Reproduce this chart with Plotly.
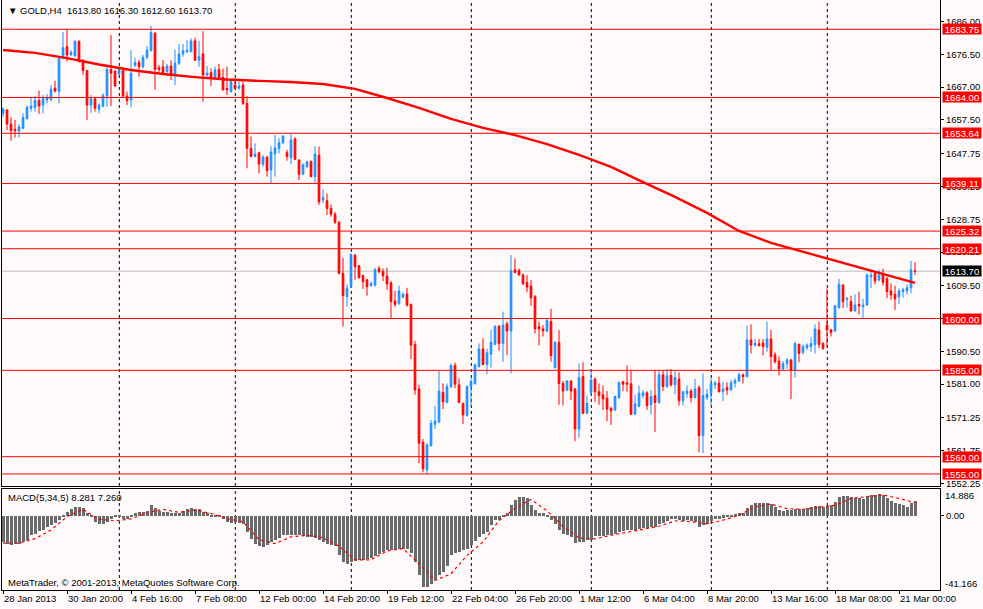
import plotly.graph_objects as go

# --------------------- chart values (GOLD H4) ---------------------

bar_open = [
    1659.4, 1660.4, 1656.3, 1654.8, 1654.3, 1655.1, 1657.9, 1660.9, 1661.1, 1663.1,
    1661.8, 1663.3, 1663.5, 1666.7, 1665.7, 1675.6, 1678.7, 1676.4, 1676.0, 1680.2,
    1674.8, 1671.8, 1661.8, 1663.6, 1660.6, 1661.5, 1664.4, 1672.1, 1671.6, 1670.8,
    1671.8, 1664.4, 1663.3, 1673.3, 1674.1, 1672.9, 1675.6, 1677.6, 1682.6, 1672.6,
    1672.9, 1671.5, 1673.1, 1670.5, 1673.9, 1676.6, 1677.3, 1677.3, 1680.4, 1674.8,
    1676.6, 1670.5, 1671.2, 1669.8, 1672.1, 1669.8, 1666.6, 1665.7, 1667.6, 1666.7,
    1667.6, 1662.3, 1649.3, 1646.9, 1648.0, 1644.7, 1646.7, 1643.0, 1647.6, 1649.2,
    1650.9, 1648.0, 1646.6, 1652.0, 1645.9, 1641.8, 1644.0, 1645.5, 1641.1, 1647.3,
    1634.3, 1634.1, 1631.9, 1630.2, 1627.9, 1613.1, 1606.3, 1609.2, 1618.4, 1615.3,
    1612.4, 1611.2, 1609.5, 1609.7, 1614.5, 1613.6, 1612.3, 1610.3, 1605.1, 1604.4,
    1606.1, 1607.1, 1604.1, 1592.5, 1579.6, 1564.2, 1556.2, 1563.2, 1569.4, 1570.1,
    1578.6, 1575.7, 1580.3, 1586.4, 1580.8, 1575.4, 1571.9, 1580.3, 1581.2, 1586.1,
    1591.2, 1586.7, 1589.7, 1592.5, 1597.8, 1592.8, 1598.5, 1596.4, 1614.1, 1613.9,
    1612.6, 1610.4, 1609.4, 1606.3, 1597.6, 1597.0, 1596.4, 1599.1, 1585.8, 1593.1,
    1581.2, 1579.3, 1581.9, 1579.6, 1568.0, 1583.2, 1572.6, 1578.6, 1582.5, 1578.8,
    1577.9, 1576.9, 1574.0, 1573.5, 1577.1, 1581.7, 1581.4, 1581.1, 1572.3, 1574.6,
    1577.7, 1578.5, 1575.0, 1577.7, 1575.7, 1583.7, 1580.3, 1583.5, 1580.8, 1582.5,
    1576.2, 1578.3, 1579.0, 1577.1, 1580.0, 1566.1, 1577.1, 1578.3, 1580.8, 1581.3,
    1578.8, 1580.0, 1579.3, 1581.3, 1581.9, 1583.7, 1583.2, 1593.8, 1592.3, 1592.7,
    1592.9, 1591.7, 1594.1, 1589.5, 1587.7, 1585.4, 1587.0, 1588.0, 1585.1, 1592.5,
    1590.2, 1591.6, 1591.9, 1592.5, 1596.7, 1592.8, 1598.1, 1596.7, 1596.4, 1603.2,
    1609.7, 1605.6, 1604.9, 1602.2, 1604.1, 1603.4, 1603.9, 1612.1, 1613.1, 1611.2,
    1612.8, 1611.5, 1608.0, 1607.0, 1606.3, 1607.8, 1608.0, 1608.9, 1613.8,
]

bar_high = [
    1661.1, 1660.6, 1658.3, 1657.5, 1656.3, 1659.4, 1661.7, 1664.2, 1664.4, 1666.0,
    1664.7, 1665.0, 1667.6, 1668.8, 1676.0, 1683.0, 1683.7, 1677.7, 1680.6, 1680.6,
    1675.0, 1671.9, 1664.7, 1664.2, 1662.3, 1665.2, 1672.9, 1682.1, 1671.9, 1672.4,
    1671.9, 1665.7, 1677.7, 1675.5, 1674.9, 1676.3, 1678.9, 1684.7, 1683.0, 1673.4,
    1674.8, 1673.7, 1674.7, 1677.9, 1679.5, 1679.5, 1680.6, 1681.1, 1681.3, 1680.4,
    1683.2, 1673.1, 1672.4, 1672.9, 1673.7, 1672.4, 1672.9, 1668.9, 1669.5, 1668.6,
    1668.6, 1664.4, 1652.7, 1650.7, 1648.3, 1647.3, 1647.1, 1649.9, 1653.1, 1652.2,
    1653.1, 1648.8, 1653.4, 1652.5, 1646.1, 1644.9, 1645.7, 1645.7, 1649.9, 1649.8,
    1637.4, 1636.2, 1633.0, 1630.8, 1628.2, 1617.6, 1609.9, 1618.8, 1618.6, 1615.5,
    1612.8, 1611.5, 1610.7, 1614.7, 1615.2, 1614.5, 1614.7, 1610.9, 1608.0, 1609.5,
    1607.6, 1608.9, 1604.3, 1593.5, 1580.8, 1565.1, 1563.9, 1570.6, 1574.7, 1584.8,
    1581.2, 1581.2, 1587.0, 1587.3, 1582.7, 1575.7, 1580.6, 1582.7, 1587.0, 1592.8,
    1594.3, 1591.2, 1596.7, 1598.1, 1598.1, 1602.0, 1599.1, 1618.4, 1617.4, 1614.5,
    1613.1, 1612.6, 1611.2, 1606.8, 1599.1, 1598.1, 1599.9, 1602.8, 1593.5, 1596.7,
    1581.9, 1582.2, 1582.2, 1579.8, 1587.0, 1587.3, 1577.7, 1585.4, 1582.9, 1581.2,
    1580.6, 1579.0, 1574.5, 1577.7, 1581.9, 1581.9, 1586.4, 1585.1, 1577.9, 1580.6,
    1579.3, 1579.0, 1579.3, 1585.1, 1584.8, 1585.1, 1585.4, 1585.4, 1585.1, 1584.4,
    1579.0, 1580.6, 1579.6, 1582.5, 1580.6, 1584.1, 1579.6, 1582.7, 1581.9, 1583.2,
    1581.7, 1581.5, 1582.2, 1582.7, 1584.4, 1584.1, 1597.9, 1598.3, 1594.1, 1594.1,
    1594.1, 1599.1, 1596.7, 1590.2, 1589.0, 1587.7, 1588.5, 1588.3, 1593.3, 1592.8,
    1592.5, 1592.8, 1594.5, 1598.3, 1599.1, 1593.1, 1608.7, 1597.0, 1603.9, 1611.5,
    1609.9, 1606.0, 1606.6, 1607.0, 1607.8, 1605.7, 1613.1, 1614.1, 1613.6, 1614.1,
    1614.4, 1612.1, 1610.2, 1609.5, 1608.7, 1608.9, 1609.9, 1616.7, 1616.3,
]

bar_low = [
    1658.4, 1654.6, 1651.5, 1652.4, 1652.4, 1654.8, 1657.5, 1659.9, 1659.9, 1659.2,
    1659.4, 1662.3, 1662.8, 1665.4, 1662.3, 1675.0, 1674.4, 1676.0, 1675.8, 1674.1,
    1670.5, 1657.5, 1659.6, 1659.9, 1659.4, 1661.1, 1661.3, 1661.5, 1667.1, 1670.5,
    1664.0, 1661.8, 1661.1, 1672.9, 1670.0, 1672.4, 1675.0, 1677.3, 1666.2, 1671.0,
    1670.5, 1671.0, 1669.1, 1667.6, 1673.4, 1675.8, 1676.8, 1677.0, 1674.7, 1672.9,
    1662.8, 1670.0, 1667.3, 1669.5, 1669.5, 1666.0, 1664.7, 1665.4, 1666.4, 1666.2,
    1661.8, 1643.5, 1646.7, 1646.7, 1642.0, 1643.9, 1641.1, 1638.9, 1641.1, 1647.8,
    1650.5, 1645.7, 1644.7, 1645.9, 1640.1, 1641.6, 1643.5, 1640.9, 1638.9, 1632.9,
    1633.4, 1630.0, 1629.5, 1627.4, 1612.8, 1597.7, 1603.4, 1608.9, 1611.2, 1611.6,
    1608.6, 1606.6, 1609.2, 1609.2, 1613.1, 1610.9, 1608.3, 1600.1, 1603.4, 1603.9,
    1605.9, 1603.4, 1588.3, 1577.9, 1558.1, 1555.5, 1554.9, 1562.9, 1568.0, 1569.7,
    1573.8, 1575.5, 1579.8, 1579.8, 1575.5, 1569.5, 1571.6, 1574.7, 1580.8, 1585.8,
    1586.4, 1583.9, 1585.8, 1592.3, 1590.7, 1587.5, 1589.4, 1584.1, 1613.1, 1612.4,
    1609.7, 1607.6, 1603.7, 1595.7, 1592.2, 1594.8, 1596.0, 1587.5, 1585.5, 1575.0,
    1574.8, 1579.0, 1576.4, 1564.5, 1565.5, 1572.3, 1572.3, 1577.9, 1575.9, 1575.0,
    1573.5, 1570.3, 1569.2, 1573.2, 1576.7, 1579.0, 1578.8, 1572.1, 1572.1, 1574.3,
    1576.9, 1573.5, 1572.3, 1567.1, 1575.4, 1579.0, 1580.0, 1580.3, 1578.1, 1574.8,
    1574.8, 1577.1, 1575.7, 1576.9, 1561.3, 1561.0, 1576.4, 1574.8, 1579.6, 1578.6,
    1576.1, 1577.9, 1579.0, 1580.0, 1581.7, 1581.2, 1582.9, 1589.9, 1591.9, 1591.9,
    1589.3, 1590.4, 1585.1, 1587.0, 1583.5, 1585.1, 1585.4, 1576.7, 1582.9, 1587.3,
    1589.6, 1590.9, 1590.4, 1589.9, 1591.4, 1590.9, 1591.6, 1594.8, 1596.0, 1602.8,
    1603.0, 1603.2, 1602.0, 1602.0, 1601.2, 1599.9, 1603.7, 1608.9, 1609.9, 1610.7,
    1609.5, 1605.9, 1605.4, 1602.5, 1604.1, 1606.0, 1607.0, 1607.3, 1612.6,
]

bar_close = [
    1660.6, 1656.3, 1654.4, 1654.4, 1655.5, 1658.2, 1661.1, 1661.5, 1663.1, 1661.5,
    1663.6, 1664.0, 1666.4, 1665.9, 1675.6, 1678.4, 1676.3, 1677.1, 1680.2, 1674.4,
    1671.8, 1661.8, 1663.6, 1660.9, 1661.8, 1664.6, 1672.1, 1671.0, 1667.3, 1671.9,
    1664.4, 1663.1, 1671.0, 1674.1, 1672.9, 1675.6, 1677.7, 1682.8, 1672.1, 1672.1,
    1671.0, 1673.1, 1670.5, 1673.9, 1676.6, 1677.5, 1677.7, 1680.4, 1674.8, 1675.8,
    1670.5, 1671.0, 1669.8, 1672.0, 1669.8, 1666.2, 1666.2, 1668.6, 1666.6, 1667.3,
    1662.3, 1649.3, 1646.9, 1647.6, 1644.7, 1646.7, 1642.8, 1648.2, 1649.4, 1650.9,
    1652.8, 1646.9, 1651.7, 1646.1, 1641.8, 1644.5, 1645.3, 1641.1, 1647.6, 1633.8,
    1635.1, 1631.9, 1630.2, 1627.9, 1613.1, 1606.6, 1608.8, 1618.6, 1615.0, 1611.8,
    1610.7, 1609.2, 1610.2, 1614.1, 1613.6, 1612.4, 1610.0, 1604.9, 1604.1, 1608.0,
    1607.0, 1603.9, 1592.3, 1579.3, 1563.9, 1556.5, 1563.4, 1569.7, 1570.3, 1579.0,
    1575.9, 1580.3, 1586.4, 1581.0, 1575.7, 1572.1, 1580.3, 1581.7, 1586.6, 1591.2,
    1586.7, 1590.1, 1593.1, 1597.7, 1592.8, 1598.1, 1596.4, 1613.8, 1613.3, 1612.6,
    1610.1, 1609.1, 1606.0, 1597.0, 1597.0, 1596.4, 1599.4, 1589.3, 1593.1, 1581.2,
    1579.0, 1581.9, 1579.0, 1568.0, 1582.9, 1572.6, 1575.5, 1582.2, 1578.8, 1577.7,
    1576.7, 1573.8, 1573.3, 1577.4, 1581.4, 1581.0, 1581.0, 1572.3, 1575.3, 1578.4,
    1578.5, 1574.8, 1577.4, 1575.7, 1583.7, 1580.3, 1583.4, 1580.8, 1582.9, 1576.2,
    1578.8, 1579.0, 1577.1, 1579.6, 1566.1, 1577.7, 1578.1, 1581.1, 1581.4, 1578.8,
    1579.6, 1579.3, 1581.4, 1582.0, 1583.7, 1583.2, 1593.8, 1592.3, 1592.8, 1592.2,
    1591.9, 1594.1, 1589.0, 1587.5, 1585.4, 1587.0, 1588.0, 1585.1, 1592.8, 1589.9,
    1591.9, 1592.3, 1592.8, 1597.0, 1592.5, 1591.4, 1596.7, 1596.0, 1603.7, 1609.9,
    1604.9, 1605.9, 1602.2, 1603.9, 1603.7, 1603.9, 1612.6, 1612.6, 1610.9, 1612.6,
    1610.5, 1607.8, 1606.8, 1605.7, 1608.0, 1608.3, 1608.9, 1614.1, 1613.7,
]

# moving average (red line), read every 8 bars
ma_bars = [0, 8, 16, 24, 32, 40, 48, 56, 64, 72, 80, 88, 96, 104, 112,
           120, 128, 136, 144, 152, 160, 168, 176, 184, 192, 200, 208, 216, 224, 228]
ma_values = [1677.75, 1676.9, 1675.4, 1673.55, 1671.96, 1670.8, 1669.9, 1669.2, 1668.8, 1668.5,
             1667.9, 1666.5, 1663.85, 1661.0, 1657.8, 1655.2, 1653.1, 1650.5, 1647.35, 1643.9,
             1639.5, 1635.2, 1630.6, 1625.35, 1621.9, 1619.3, 1616.65, 1614.0, 1611.4, 1610.3]

# MACD(5,34,5) histogram, one value per bar
macd_hist = [
    -14.5, -15.4, -16.0, -15.8, -15.4, -14.7, -13.2, -10.8, -9.9, -8.5,
    -7.6, -6.1, -5.2, -3.9, -2.4, -0.2, 2.3, 3.6, 5.0, 5.0,
    4.1, 1.3, -0.5, -3.3, -4.6, -4.6, -3.3, -1.5, -0.9, -0.5,
    -1.5, -2.0, -0.2, 1.3, 1.9, 2.3, 2.8, 6.0, 4.1, 2.8,
    2.3, 1.9, 1.3, 1.3, 1.7, 2.8, 3.6, 4.1, 3.9, 3.6,
    2.3, 1.3, -0.9, -0.9, -0.5, -2.0, -3.3, -3.9, -3.3, -3.9,
    -4.3, -8.9, -12.7, -15.4, -16.8, -17.3, -16.4, -14.5, -13.6, -12.1,
    -10.8, -10.8, -10.4, -10.4, -10.8, -11.3, -11.7, -11.7, -12.1, -13.2,
    -14.5, -15.4, -16.4, -16.9, -22.0, -25.7, -27.0, -25.7, -24.8, -24.4,
    -24.4, -23.8, -23.3, -22.5, -21.4, -20.1, -19.2, -19.2, -18.8, -18.6,
    -18.4, -18.6, -20.7, -25.7, -33.1, -39.3, -39.7, -37.8, -35.5, -33.1,
    -31.3, -28.1, -22.0, -20.7, -20.1, -19.2, -18.2, -16.4, -14.0, -11.7,
    -9.9, -8.9, -5.2, -2.4, -2.4, -0.5, 1.3, 6.0, 8.8, 10.6,
    10.6, 9.7, 6.0, 3.2, 1.3, 1.3, -0.5, -2.4, -4.3, -7.6,
    -10.2, -10.8, -11.7, -15.1, -14.5, -14.5, -13.6, -13.2, -11.3, -11.2,
    -11.0, -10.8, -10.4, -9.9, -8.9, -8.4, -7.6, -8.0, -8.0, -7.1,
    -6.5, -6.5, -6.1, -6.1, -4.6, -3.9, -2.8, -2.0, -2.0, -2.4,
    -2.8, -2.4, -2.8, -3.3, -6.1, -5.2, -4.3, -2.8, -2.0, -1.5,
    -1.1, -0.9, -0.5, 0.6, 1.3, 1.7, 4.1, 6.0, 6.9, 6.9,
    7.3, 7.3, 6.5, 4.7, 3.2, 2.8, 3.2, 3.2, 3.6, 3.6,
    3.9, 4.3, 5.0, 5.4, 5.4, 5.0, 5.4, 5.8, 7.8, 10.6,
    11.0, 11.0, 10.3, 9.7, 9.7, 9.1, 11.0, 11.6, 11.6, 11.9,
    11.6, 9.7, 8.4, 6.9, 6.5, 6.0, 5.0, 7.3, 8.281,
]

# MACD signal line, read every 4 bars
signal_bars = list(range(0, 229, 4))
signal_values = [
    -15.1, -15.1, -12.7, -7.9, -0.5, 3.6, -2.0, -2.8, -1.7, 1.7,
    3.6, 1.9, 3.2, 1.3, -1.5, -3.3, -13.2, -15.4, -11.7, -10.8,
    -12.1, -16.9, -24.4, -24.4, -19.5, -18.2, -26.6, -35.9, -32.2, -22.0,
    -14.5, -2.6, 4.1, 9.1, 2.8, -5.8, -12.3, -12.8, -10.8, -9.1,
    -7.2, -5.8, -2.8, -3.2, -4.5, -2.4, 0.2, 5.0, 6.5, 4.0,
    3.6, 4.7, 5.8, 9.7, 10.6, 11.6, 9.7, 7.26,
]

level_prices = [1683.75, 1664.00, 1653.64, 1639.11, 1625.32, 1620.21, 1600.00, 1585.00, 1560.00, 1555.00]
bid_price = 1613.70

price_ticks = [1686.00, 1676.50, 1667.00, 1657.50, 1647.75, 1638.25, 1628.75, 1619.25,
               1609.50, 1600.00, 1590.50, 1581.00, 1571.25, 1561.75, 1552.25]
macd_max = 14.886
macd_min = -41.166

week_bars = [29, 58, 87, 117, 147, 177, 206]
label_bars = [0, 16, 32, 48, 64, 80, 96, 112, 128, 144, 160, 176, 192, 208, 224]
label_text = ["28 Jan 2013", "30 Jan 20:00", "4 Feb 16:00", "7 Feb 08:00", "12 Feb 00:00",
              "14 Feb 20:00", "19 Feb 12:00", "22 Feb 04:00", "26 Feb 20:00", "1 Mar 12:00",
              "6 Mar 04:00", "8 Mar 20:00", "13 Mar 16:00", "18 Mar 08:00", "21 Mar 00:00"]

header_text = "▼ GOLD,H4  1613.80 1616.30 1612.60 1613.70"
macd_text = "MACD(5,34,5) 8.281 7.260"
copyright_text = "MetaTrader, © 2001-2013, MetaQuotes Software Corp."

# --------------------- figure -------------------------------------
FONT = "Liberation Sans, Arial, sans-serif"
BG = "#FFFAFA"
bars = list(range(len(bar_close)))

fig = go.Figure()

fig.add_trace(go.Candlestick(
    x=bars, open=bar_open, high=bar_high, low=bar_low, close=bar_close,
    increasing=dict(line=dict(color="#1E90FF", width=1), fillcolor="#1E90FF"),
    decreasing=dict(line=dict(color="#FF0000", width=1), fillcolor="#FF0000"),
    whiskerwidth=0, showlegend=False, hoverinfo="skip", xaxis="x", yaxis="y"))

fig.add_trace(go.Scatter(
    x=ma_bars, y=ma_values, mode="lines", line=dict(color="#FF0000", width=2.4),
    showlegend=False, hoverinfo="skip", xaxis="x", yaxis="y"))

fig.add_trace(go.Bar(
    x=bars, y=macd_hist, width=0.75, marker=dict(color="#6A6A6A", line=dict(width=0)),
    showlegend=False, hoverinfo="skip", xaxis="x2", yaxis="y2"))

fig.add_trace(go.Scatter(
    x=signal_bars, y=signal_values, mode="lines",
    line=dict(color="#FF0000", width=1.2, dash="dot"),
    showlegend=False, hoverinfo="skip", xaxis="x2", yaxis="y2"))

shapes = []
# weekly grid (dashed)
for b in week_bars:
    for yr in ["y domain", "y2 domain"]:
        shapes.append(dict(type="line", xref="x", yref=yr, x0=b + 0.08, x1=b + 0.08, y0=0, y1=1,
                           line=dict(color="black", width=1, dash="3px,3px"), layer="below"))
# bid line
shapes.append(dict(type="line", xref="paper", yref="y", x0=0, x1=1, y0=bid_price, y1=bid_price,
                   line=dict(color="#C0C0C0", width=1), layer="below"))
# horizontal levels
for p in level_prices:
    shapes.append(dict(type="line", xref="paper", yref="y", x0=0, x1=1, y0=p, y1=p,
                       line=dict(color="#FF0000", width=1), layer="above"))

annotations = []
for p in level_prices:
    annotations.append(dict(text=f"{p:.2f}", x=1, xref="paper", y=p, yref="y",
                            xanchor="left", yanchor="middle", xshift=2, showarrow=False,
                            bgcolor="#FF0000", width=38, height=10, borderpad=0,
                            font=dict(family=FONT, size=9.5, color="white")))
annotations.append(dict(text=f"{bid_price:.2f}", x=1, xref="paper", y=bid_price, yref="y",
                        xanchor="left", yanchor="middle", xshift=2, showarrow=False,
                        bgcolor="black", width=38, height=10, borderpad=0,
                        font=dict(family=FONT, size=9.5, color="white")))

for b, t in zip(label_bars, label_text):
    annotations.append(dict(text=t, x=b - 0.2, xref="x2", y=-0.0136, yref="paper",
                            xanchor="left", yanchor="middle", showarrow=False,
                            font=dict(family=FONT, size=9.5, color="black")))

annotations.append(dict(text=f"{macd_max:.3f}", x=1, xref="paper", y=0.161, yref="paper",
                        xanchor="left", yanchor="middle", xshift=3, showarrow=False,
                        font=dict(family=FONT, size=9.5, color="black")))
annotations.append(dict(text=f"{macd_min:.3f}", x=1, xref="paper", y=0.0102, yref="paper",
                        xanchor="left", yanchor="middle", xshift=3, showarrow=False,
                        font=dict(family=FONT, size=9.5, color="black")))

annotations.append(dict(text=header_text, x=0.004, xref="paper", y=0.982, yref="paper",
                        xanchor="left", yanchor="middle", showarrow=False,
                        font=dict(family=FONT, size=9.5, color="black")))
annotations.append(dict(text=macd_text, x=0.004, xref="paper", y=0.1576, yref="paper",
                        xanchor="left", yanchor="middle", showarrow=False,
                        font=dict(family=FONT, size=9.5, color="black")))
annotations.append(dict(text=copyright_text, x=0.004, xref="paper", y=0.0119, yref="paper",
                        xanchor="left", yanchor="middle", showarrow=False,
                        font=dict(family=FONT, size=9.5, color="black")))

fig.update_layout(
    width=983, height=609,
    margin=dict(l=2, r=43, t=0, b=19),
    paper_bgcolor=BG, plot_bgcolor=BG,
    font=dict(family=FONT, size=9.5, color="black"),
    showlegend=False, boxgap=0.4, bargap=0,
    shapes=shapes, annotations=annotations,
    xaxis=dict(domain=[0, 1], range=[-0.25, 234.25], anchor="y", showticklabels=False,
               ticks="", showgrid=False, zeroline=False, showline=True, linecolor="black",
               linewidth=1, rangeslider=dict(visible=False), fixedrange=True),
    yaxis=dict(domain=[0.1763, 1], range=[1551.52, 1692.22], side="right", anchor="x",
               tickvals=price_ticks, ticktext=[f"{v:.2f}" for v in price_ticks],
               ticks="outside", ticklen=3, tickcolor="black", showgrid=False, zeroline=False,
               showline=True, mirror=True, linecolor="black", linewidth=1, fixedrange=True,
               automargin=False),
    xaxis2=dict(domain=[0, 1], range=[-0.25, 234.25], anchor="y2", tickvals=label_bars,
                showticklabels=False, ticks="outside", ticklen=3, tickcolor="black",
                showgrid=False, zeroline=False, showline=True, mirror=True,
                linecolor="black", linewidth=1, fixedrange=True, automargin=False),
    yaxis2=dict(domain=[0, 0.1712], range=[macd_min, macd_max], side="right", anchor="x2",
                tickvals=[0], ticktext=["0.00"], ticks="outside", ticklen=3, tickcolor="black",
                showgrid=False, zeroline=False, showline=True, mirror=True,
                linecolor="black", linewidth=1, fixedrange=True, automargin=False),
)

# page has a default body margin; drop it so the chart sits at the window's corner
fig.write_html("out.html", config={"displayModeBar": False},
               post_script="document.body.style.margin='0px';document.body.style.overflow='hidden';")
